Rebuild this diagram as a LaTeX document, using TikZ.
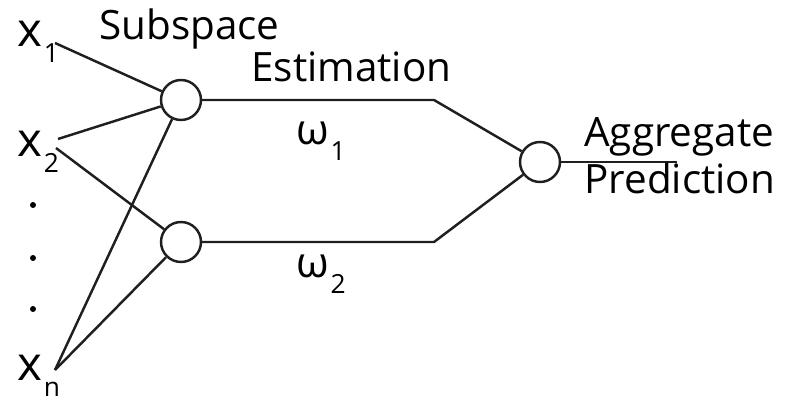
\documentclass[tikz,border=0pt]{standalone}
\usepackage{fontspec}
\setmainfont{Open Sans}
\usetikzlibrary{positioning,calc}
\newcommand{\lowsub}[1]{\hspace{1pt}\raisebox{-9pt}{\fontsize{15}{16}\selectfont #1}}

\begin{document}
\begin{tikzpicture}[x=0.02cm, y=-0.02cm,
  unit/.style={circle, draw=black!88, line width=1.4pt, minimum size=0.8cm, inner sep=0pt, fill=white},
  link/.style={line width=1.4pt, draw=black!88},
  lbl/.style={font=\fontsize{23}{27}\selectfont, inner sep=0pt, anchor=base west},
  var/.style={lbl, font=\fontsize{27}{30}\selectfont},
  dot/.style={circle, fill=black, inner sep=0pt, minimum size=0.12cm},
]
\useasboundingbox (0,0) rectangle (791,404);

% === INPUTS ===
\node[var] (x1) at (17,47) {x\lowsub{1}};
\node[var] (x2) at (17,157) {x\lowsub{2}};
\node[var] (xn) at (17,381) {x\lowsub{n}};
\node[dot] (d1) at (33,205) {};
\node[dot] (d2) at (33,258) {};
\node[dot] (d3) at (33,309) {};
\coordinate (x1e) at (55,43);
\coordinate (x2a) at (58,139);
\coordinate (x2b) at (56,148);
\coordinate (xne) at (55,370);

% === SUBSPACE UNITS ===
\node[unit] (s1) at (181,100) {};
\node[unit] (s2) at (181,242) {};
\node[unit] (agg) at (540,162) {};
\coordinate (k1) at (434,100);
\coordinate (k2) at (434,242);
\coordinate (out) at (677,162);

\draw[link] (x1e) -- (s1);
\draw[link] (x2a) -- (s1);
\draw[link] (x2b) -- (s2);
\draw[link] (xne) -- (s1);
\draw[link] (xne) -- (s2);
\draw[link] (s1) -- (k1) -- (agg);
\draw[link] (s2) -- (k2) -- (agg);
\draw[link] (agg) -- (out);

% === LABELS ===
\node[lbl] (subsp) at (99,40) {Subspace};
\node[lbl] (est) at (251,82) {Estimation};
\node[lbl, font=\fontsize{24}{28}\selectfont] (w1) at (296,145) {ω\lowsub{1}};
\node[lbl, font=\fontsize{24}{28}\selectfont] (w2) at (296,278) {ω\lowsub{2}};
\node[lbl] (aggt) at (584,147) {Aggregate};
\node[lbl] (pred) at (584,194) {Prediction};
\end{tikzpicture}
\end{document}
